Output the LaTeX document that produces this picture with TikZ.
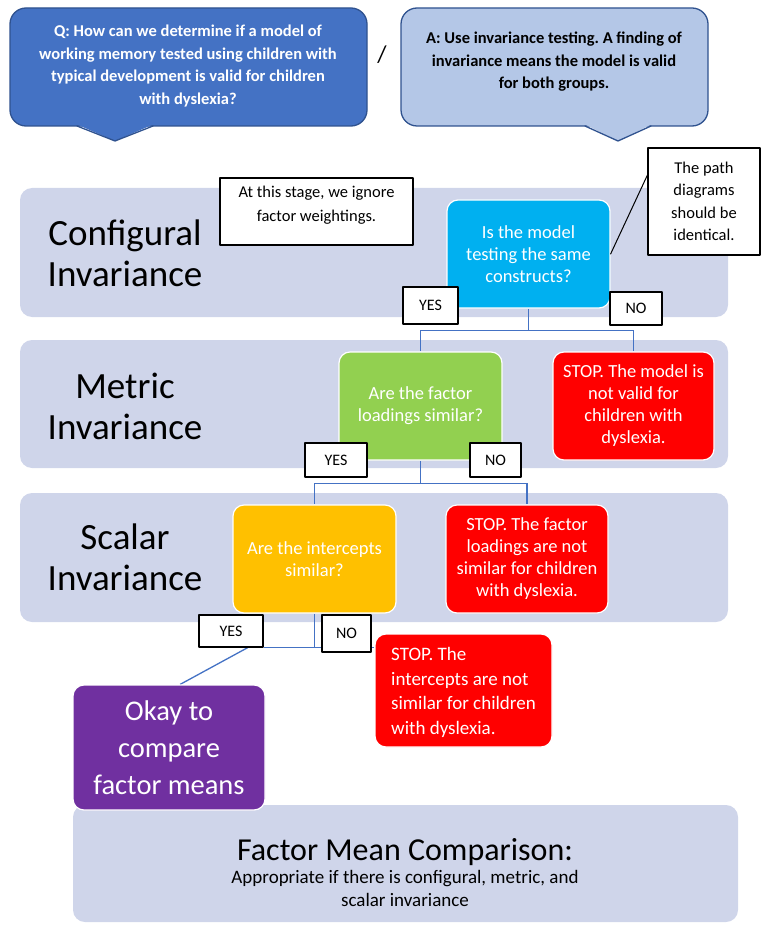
\documentclass[tikz,border=0pt]{standalone}
\usepackage{fontspec}
\setmainfont{Carlito}
\frenchspacing
\usetikzlibrary{backgrounds}
\definecolor{bandgrey}{RGB}{207,213,234}
\definecolor{qblue}{RGB}{68,114,196}
\definecolor{ablue}{RGB}{180,199,231}
\definecolor{edgeblue}{RGB}{47,82,143}
\definecolor{skyq}{RGB}{0,176,240}
\definecolor{leafq}{RGB}{146,208,80}
\definecolor{goldq}{RGB}{255,192,0}
\definecolor{stopred}{RGB}{255,0,0}
\definecolor{okpurple}{RGB}{112,48,160}
\begin{document}
\begin{tikzpicture}[x=1pt, y=-1pt, line join=round, line cap=round,
  band/.style={fill=bandgrey, rounded corners=12pt},
  bandtext/.style={align=center, font=\fontsize{37}{41}\selectfont},
  callout/.style={draw=edgeblue, line width=1.3pt, rounded corners=16pt},
  qbox/.style={draw=white, line width=1.2pt, rounded corners=11pt, text=white, align=center, inner sep=0pt, font=\fontsize{18.5}{22}\selectfont},
  yn/.style={draw=black, line width=1.3pt, fill=white, inner sep=0pt, font=\fontsize{16}{18}\selectfont},
  note/.style={draw=black, line width=1.2pt, fill=white, align=center, inner sep=4pt, font=\fontsize{16.5}{22.5}\selectfont},
  link/.style={draw=qblue, line width=1.3pt}]
\useasboundingbox (0,0) rectangle (768,925);
% question and answer
\draw[callout, fill=qblue] (10,8) rectangle (367,126);
\fill[qblue] (77,124.5)--(115,141)--(153,124.5)--cycle;
\draw[edgeblue, line width=1.3pt] (77,126)--(115,141)--(153,126);
\node[text=white, align=center, font=\bfseries\fontsize{16.5}{22.5}\selectfont] (question) at (188,66) {Q: How can we determine if a model of\\working memory tested using children with\\typical development is valid for children\\with dyslexia?};
\node[font=\fontsize{24}{28}\selectfont] (slash) at (382,55) {/};
\draw[callout, fill=ablue] (401,8) rectangle (708,126);
\fill[ablue] (585,124.5)--(618,141)--(651,124.5)--cycle;
\draw[edgeblue, line width=1.3pt] (585,126)--(618,141)--(651,126);
\node[align=center, font=\bfseries\fontsize{16.5}{22.5}\selectfont] (answer) at (554,62) {A: Use invariance testing. A finding of\\invariance means the model is valid\\for both groups.};
% bands
\begin{pgfonlayer}{background}
\fill[band] (20,188) rectangle (728,317);
\fill[band] (20,340) rectangle (728,468);
\fill[band] (20,493) rectangle (728,622);
\fill[band] (73,805) rectangle (738,922);
\end{pgfonlayer}
\node[bandtext] (configural) at (125,253) {Configural\\Invariance};
\node[bandtext] (metric) at (125,406) {Metric\\Invariance};
\node[bandtext] (scalar) at (125,557) {Scalar\\Invariance};
\node[align=center, font=\fontsize{19}{23}\selectfont] (means) at (405,873) {{\fontsize{32}{36}\selectfont Factor Mean Comparison:}\\Appropriate if there is configural, metric, and\\scalar invariance};
% questions
\node[qbox, fill=skyq, minimum width=163pt, minimum height=108pt] (same) at (528.5,254) {Is the model\\testing the same\\constructs?};
\node[qbox, fill=leafq, minimum width=163pt, minimum height=108pt] (loadings) at (420.5,406) {Are the factor\\loadings similar?};
\node[qbox, fill=stopred, minimum width=161pt, minimum height=108pt] (stopA) at (633.5,406) {STOP. The model is\\not valid for\\children with\\dyslexia.};
\node[qbox, fill=goldq, minimum width=163pt, minimum height=108pt] (intercepts) at (314.5,559) {Are the intercepts\\similar?};
\node[qbox, fill=stopred, minimum width=162pt, minimum height=108pt] (stopB) at (527,559) {STOP. The factor\\loadings are not\\similar for children\\with dyslexia.};
\node[qbox, fill=stopred, minimum width=177pt, minimum height=113pt, align=left, font=\fontsize{19}{24.5}\selectfont] (stopC) at (463.5,690.5) {\strut STOP. The\\intercepts are not\\similar for children\\with dyslexia.};
\node[qbox, fill=okpurple, minimum width=192pt, minimum height=125pt, font=\fontsize{28.5}{37}\selectfont] (okay) at (169,747.5) {Okay to\\compare\\factor means};
% notes
\node[note] (ignore) at (316.5,211.5) {\parbox[c][59pt][t]{185pt}{\centering\fontsize{16.5}{24.5}\selectfont\vspace*{4pt}At this stage, we ignore\\factor weightings.}};
\node[note, minimum width=112pt, minimum height=107pt] (identical) at (704,201.5) {The path\\diagrams\\should be\\identical.};
\draw[line width=1pt] (same.east) -- (identical.155);
% yes / no
\node[yn, minimum width=55pt, minimum height=37pt] (yesA) at (430.5,305.5) {YES};
\node[yn, minimum width=52pt, minimum height=33pt] (noA) at (636,308.5) {NO};
\node[yn, minimum width=62pt, minimum height=34pt] (yesB) at (336,460) {YES};
\node[yn, minimum width=51pt, minimum height=34pt] (noB) at (495.5,460) {NO};
\node[yn, minimum width=64pt, minimum height=32pt] (yesC) at (231,631) {YES};
\node[yn, minimum width=49pt, minimum height=37pt] (noC) at (346.5,633.5) {NO};
% connectors
\begin{pgfonlayer}{background}
\draw[link] (same.south) -- ++(0,22) -| (loadings.north);
\draw[link] (same.south) ++(0,22) -| (stopA.north);
\draw[link] (loadings.south) -- ++(0,23) -| (intercepts.north);
\draw[link] (loadings.south) ++(0,23) -| (stopB.north);
\draw[link] (intercepts.south) -- (intercepts.south |- yesC.south);
\draw[link] (yesC.south east) -- (yesC.south east -| stopC.west);
\draw[link] (yesC.-45) -- (okay.80);
\end{pgfonlayer}
\end{tikzpicture}
\end{document}
